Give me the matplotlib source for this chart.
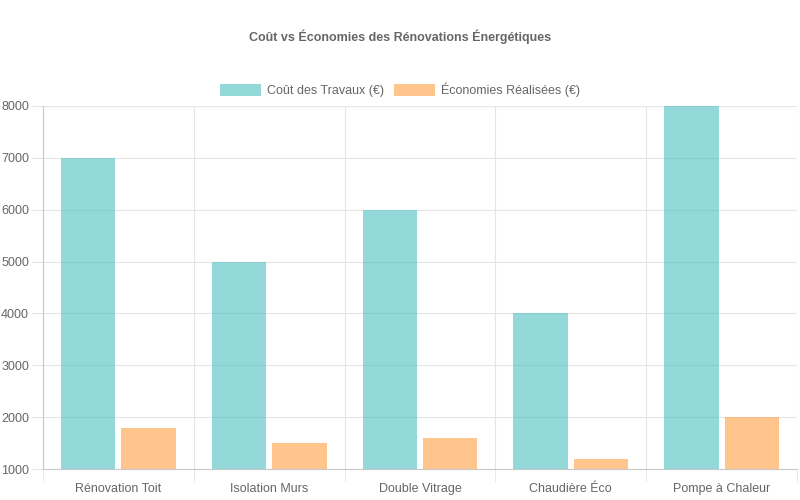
import matplotlib.pyplot as plt
import matplotlib.patches as mpatches
import numpy as np

plt.rcParams['font.family'] = ['Liberation Sans', 'DejaVu Sans']

categories = ['Rénovation Toit', 'Isolation Murs', 'Double Vitrage', 'Chaudière Éco', 'Pompe à Chaleur']
cout = [7000, 5000, 6000, 4000, 8000]
economies = [1800, 1500, 1600, 1200, 2000]
series_labels = ['Coût des Travaux (€)', 'Économies Réalisées (€)']

teal = (75/255, 192/255, 192/255, 0.6)
orange = (255/255, 159/255, 64/255, 0.6)
text_col = '#666666'

fig = plt.figure(figsize=(8, 5), dpi=100)
ax = fig.add_axes([43/800, 31/500, 754/800, 363/500])

x = np.arange(len(categories))
slot = 0.8 / 2
bw = slot * 0.9
ax.bar(x - slot/2, cout, width=bw, color=teal, linewidth=0, zorder=2)
ax.bar(x + slot/2, economies, width=bw, color=orange, linewidth=0, zorder=2)

ax.set_xlim(-0.5, len(categories) - 0.5)
ax.set_ylim(1000, 8000)
ax.set_yticks(range(1000, 8001, 1000))
ax.set_xticks(x)
ax.set_xticklabels(categories)
ax.set_xticks(np.arange(-0.5, len(categories)), minor=True)

ax.grid(False)
for yv in range(1000, 8001, 1000):
    ax.axhline(yv, color='#e5e5e5', lw=0.8, zorder=0)
for xv in np.arange(0.5, len(categories) - 0.5):
    ax.axvline(xv, color='#e5e5e5', lw=0.8, zorder=0)
ax.axvline(len(categories) - 0.5, color='#e5e5e5', lw=0.8, zorder=0)

for s in ['top', 'right']:
    ax.spines[s].set_visible(False)
ax.spines['left'].set_color('#c8c8c8')
ax.spines['bottom'].set_color('#c8c8c8')
ax.spines['left'].set_linewidth(0.8)
ax.spines['bottom'].set_linewidth(0.8)

ax.tick_params(axis='y', which='major', length=8, color='#e5e5e5', labelsize=9, labelcolor=text_col, pad=2)
ax.tick_params(axis='x', which='major', length=0, labelsize=9, labelcolor=text_col, pad=10)
ax.tick_params(axis='x', which='minor', length=9, color='#e5e5e5')

fig.text(0.5, 1 - 37/500, 'Coût vs Économies des Rénovations Énergétiques',
         ha='center', va='center', fontsize=9, fontweight='bold', color=text_col)

handles = [mpatches.Patch(facecolor=teal, edgecolor='none'),
           mpatches.Patch(facecolor=orange, edgecolor='none')]
leg = fig.legend(handles, series_labels, loc='center', bbox_to_anchor=(0.5, 1 - 90/500),
                 ncol=2, frameon=False, fontsize=9, handlelength=3.3, handleheight=1.0,
                 handletextpad=0.45, columnspacing=0.8)
for t in leg.get_texts():
    t.set_color(text_col)

fig.savefig('out.png', dpi=100)
